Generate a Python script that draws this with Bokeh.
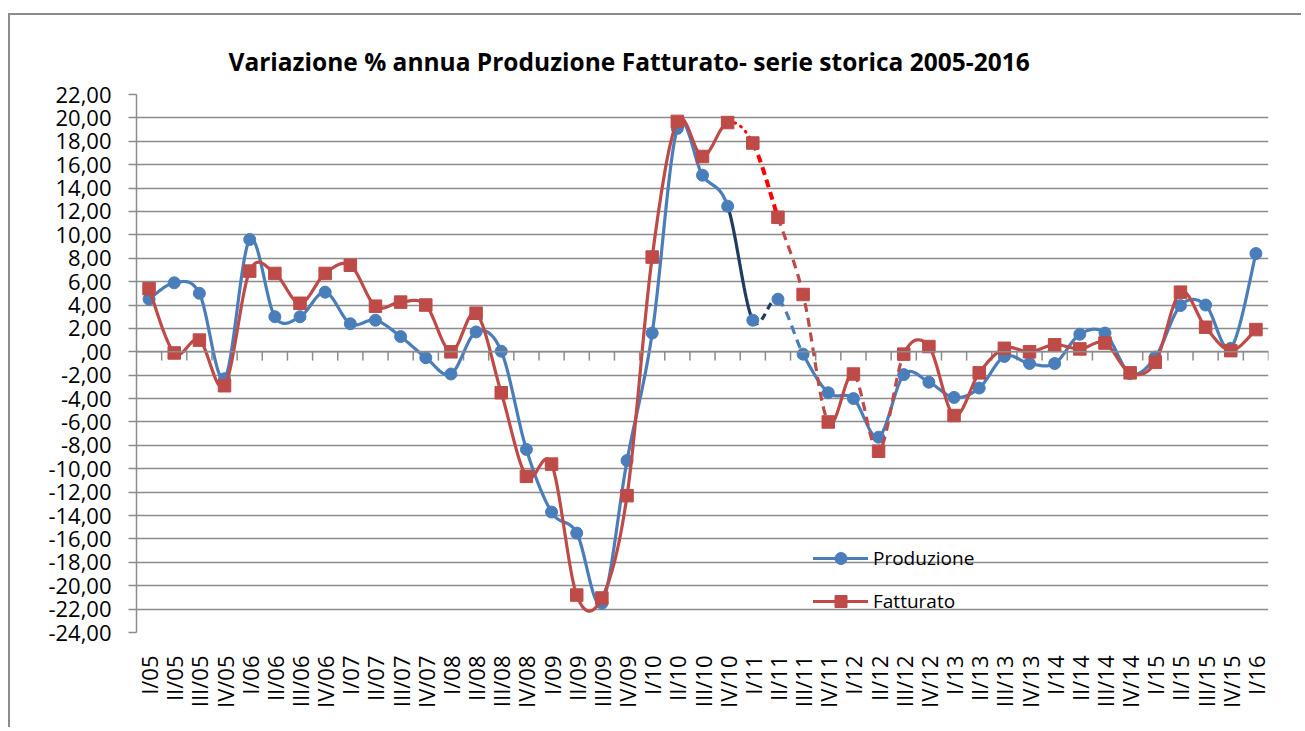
import math
import numpy as np
from bokeh.plotting import figure
from bokeh.models import FactorRange, Range1d, FixedTicker, Span, Legend, LegendItem
from bokeh.embed import file_html
from bokeh.resources import INLINE

# ---------------- data ----------------
categories = [
    "I/05", "II/05", "III/05", "IV/05",
    "I/06", "II/06", "III/06", "IV/06",
    "I/07", "II/07", "III/07", "IV/07",
    "I/08", "II/08", "III/08", "IV/08",
    "I/09", "II/09", "III/09", "IV/09",
    "I/10", "II/10", "III/10", "IV/10",
    "I/11", "II/11", "III/11", "IV/11",
    "I/12", "II/12", "III/12", "IV/12",
    "I/13", "II/13", "III/13", "IV/13",
    "I/14", "II/14", "III/14", "IV/14",
    "I/15", "II/15", "III/15", "IV/15",
    "I/16",
]
produzione = [
    4.5, 5.9, 5.0, -2.3,
    9.6, 3.0, 3.0, 5.1,
    2.4, 2.7, 1.3, -0.5,
    -1.9, 1.7, 0.05, -8.35,
    -13.7, -15.5, -21.5, -9.3,
    1.6, 19.1, 15.1, 12.45,
    2.7, 4.5, -0.2, -3.5,
    -4.0, -7.3, -1.95, -2.6,
    -3.9, -3.1, -0.4, -1.0,
    -1.0, 1.5, 1.6, -1.85,
    -0.45, 3.95, 4.0, 0.3,
    8.4,
]
fatturato = [
    5.4, -0.1, 1.0, -2.9,
    6.9, 6.7, 4.15, 6.7,
    7.4, 3.9, 4.25, 4.0,
    0.0, 3.3, -3.5, -10.65,
    -9.6, -20.8, -21.05, -12.3,
    8.1, 19.7, 16.7, 19.6,
    17.85, 11.5, 4.9, -6.0,
    -1.9, -8.5, -0.2, 0.45,
    -5.45, -1.8, 0.3, 0.0,
    0.6, 0.25, 0.75, -1.8,
    -0.9, 5.1, 2.1, 0.1,
    1.9,
]
y_ticks = list(range(-24, 23, 2))
y_tick_labels = [
    "-24,00", "-22,00", "-20,00", "-18,00", "-16,00", "-14,00", "-12,00",
    "-10,00", "-8,00", "-6,00", "-4,00", "-2,00", ",00", "2,00", "4,00",
    "6,00", "8,00", "10,00", "12,00", "14,00", "16,00", "18,00", "20,00", "22,00",
]
title_text = "Variazione % annua Produzione Fatturato- serie storica 2005-2016"

# ---------------- styles ----------------
BLUE = "#4a7ebb"
RED = "#be4b48"
NAVY = "#1f3b63"
BRIGHT_RED = "#ff0000"
GRID = "#8c8c8c"
FONT = "Open Sans"


def smooth_segments(vals, n=24):
    """Excel-like smoothed line: cubic Bezier per interval (Catmull-Rom controls)."""
    xs = np.arange(len(vals)) + 0.5
    ys = np.asarray(vals, dtype=float)
    m = len(vals)
    segs = []
    t = np.linspace(0, 1, n)
    for i in range(m - 1):
        im1 = max(i - 1, 0)
        ip2 = min(i + 2, m - 1)
        p0 = np.array([xs[i], ys[i]])
        p3 = np.array([xs[i + 1], ys[i + 1]])
        p1 = p0 + (np.array([xs[i + 1], ys[i + 1]]) - np.array([xs[im1], ys[im1]])) / 6.0
        p2 = p3 - (np.array([xs[ip2], ys[ip2]]) - np.array([xs[i], ys[i]])) / 6.0
        b = ((1 - t) ** 3)[:, None] * p0 + (3 * (1 - t) ** 2 * t)[:, None] * p1 \
            + (3 * (1 - t) * t ** 2)[:, None] * p2 + (t ** 3)[:, None] * p3
        segs.append((b[:, 0], b[:, 1]))
    return segs


def join(segs, i0, i1):
    xs, ys = [], []
    for k in range(i0, i1):
        sx, sy = segs[k]
        if xs:
            sx, sy = sx[1:], sy[1:]
        xs.extend(sx.tolist())
        ys.extend(sy.tolist())
    return xs, ys


p = figure(
    width=1293, height=714,
    x_range=FactorRange(factors=categories, range_padding=0),
    y_range=Range1d(-24, 22),
    output_backend="svg", toolbar_location=None,
    min_border_left=126, min_border_right=35,
    min_border_top=79, min_border_bottom=97,
)
p.styles = {
    "border-top": "2px solid #8c8c8c",
    "border-left": "2px solid #8c8c8c",
    "position": "relative",
    "top": "13px",
    "left": "8px",
}
p.outline_line_color = None
p.background_fill_color = "white"

# title
p.title.text = title_text
p.title.text_font = FONT
p.title.text_font_size = "24.5px"
p.title.text_font_style = "bold"
p.title.text_color = "black"
p.title.align = "left"
p.title.offset = 92
p.title.standoff = 33

# grid
p.xgrid.grid_line_color = None
p.ygrid.ticker = FixedTicker(ticks=y_ticks)
p.ygrid.grid_line_color = GRID
p.ygrid.grid_line_width = 1.5

# y axis
p.yaxis.ticker = FixedTicker(ticks=y_ticks)
p.yaxis.major_label_overrides = {t: l for t, l in zip(y_ticks, y_tick_labels)}
p.yaxis.axis_line_color = GRID
p.yaxis.axis_line_width = 1.5
p.yaxis.major_tick_line_color = GRID
p.yaxis.major_tick_line_width = 1.5
p.yaxis.major_tick_out = 8
p.yaxis.major_tick_in = 0
p.yaxis.minor_tick_line_color = None
p.yaxis.major_label_text_font = FONT
p.yaxis.major_label_text_font_size = "22px"
p.yaxis.major_label_text_color = "black"
p.yaxis.major_label_standoff = 17

# x axis (labels at bottom, axis line at zero)
p.xaxis.axis_line_color = None
p.xaxis.major_tick_line_color = None
p.xaxis.minor_tick_line_color = None
p.xaxis.major_label_orientation = math.pi / 2
p.xaxis.major_label_text_font = FONT
p.xaxis.major_label_text_font_size = "22px"
p.xaxis.major_label_text_color = "black"
p.xaxis.major_label_standoff = 17

p.add_layout(Span(location=0, dimension="width", line_color=GRID, line_width=1.5))
bounds = list(range(1, len(categories) + 1))
p.segment(x0=bounds, x1=bounds, y0=[0] * len(bounds), y1=[-0.75] * len(bounds),
          line_color=GRID, line_width=1.5)

xc = [c for c in categories]

# ---------------- Produzione ----------------
bs = smooth_segments(produzione)
x, y = join(bs, 0, 23)
blue_main = p.line(x, y, line_color=BLUE, line_width=3.2, line_join="round", line_cap="round")
x, y = join(bs, 23, 24)
p.line(x, y, line_color=NAVY, line_width=3.2, line_cap="round")
x, y = join(bs, 24, 25)
p.line(x, y, line_color=NAVY, line_width=3.2, line_dash="7 5")
x, y = join(bs, 25, 26)
p.line(x, y, line_color=BLUE, line_width=3.2, line_dash="9 6")
x, y = join(bs, 26, len(categories) - 1)
p.line(x, y, line_color=BLUE, line_width=3.2, line_join="round", line_cap="round")
blue_pts = p.scatter(xc, produzione, marker="circle", size=12,
                     fill_color=BLUE, line_color=BLUE)

# ---------------- Fatturato ----------------
rs = smooth_segments(fatturato)
x, y = join(rs, 0, 23)
red_main = p.line(x, y, line_color=RED, line_width=3.2, line_join="round", line_cap="round")
x, y = join(rs, 23, 24)
p.line(x, y, line_color=BRIGHT_RED, line_width=3, line_dash="1 6", line_cap="round")
x, y = join(rs, 24, 25)
p.line(x, y, line_color=BRIGHT_RED, line_width=4, line_dash="8 5")
x, y = join(rs, 25, 27)
p.line(x, y, line_color=RED, line_width=3.2, line_dash="9 6")
x, y = join(rs, 27, 28)
p.line(x, y, line_color=RED, line_width=3.2, line_cap="round")
x, y = join(rs, 28, 30)
p.line(x, y, line_color=RED, line_width=3.2, line_dash="9 6")
x, y = join(rs, 30, len(categories) - 1)
p.line(x, y, line_color=RED, line_width=3.2, line_join="round", line_cap="round")
red_pts = p.scatter(xc, fatturato, marker="square", size=12.5,
                    fill_color=RED, line_color=RED)

legend = Legend(
    items=[
        LegendItem(label="Produzione", renderers=[blue_main, blue_pts]),
        LegendItem(label="Fatturato", renderers=[red_main, red_pts]),
    ],
    location=(677, 16),
    glyph_width=55, glyph_height=30, label_height=30,
    spacing=13, padding=0, margin=0, label_standoff=5,
    border_line_color=None, background_fill_alpha=0,
    label_text_font=FONT, label_text_font_size="19px", label_text_color="black",
)
p.add_layout(legend)

open("out.html", "w").write(file_html(p, INLINE))
